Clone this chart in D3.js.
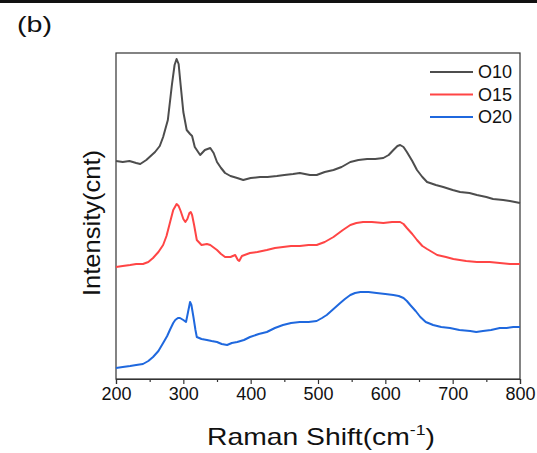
<!DOCTYPE html>
<html><head><meta charset="utf-8">
<script src="https://cdn.jsdelivr.net/npm/d3@7"></script>
<style>html,body{margin:0;padding:0;background:#fff;}svg{display:block;}</style>
</head><body>
<script>
// Raman shift positions (cm-1) and intensities (arbitrary units, offset-stacked as in figure)
const o10X = [200,210,220,230,236,245,258,265,270,277,283,287,290,293,296,300,305,310,313,317,325,332,340,345,350,356,362,370,380,389,400,414,425,439,450,463,473,488,498,510,523,535,548,560,573,585,597,605,612,618,622,627,632,640,647,655,662,675,686,700,711,725,736,750,760,775,785,800];
const o10Y = [218,217,218,216,215,219,227,233,242,259,294,314,320,315,294,267,249,245,243,232,224,229,231,226,217,211,206,203,201,199,201,202,202,203,204,205,206,204,204,207,209,212,217,219,220,220,221,224,229,233,234,232,227,218,209,202,197,194,192,189,187,186,184,182,180,179,178,176];
const o15X = [200,210,221,230,240,248,255,263,270,275,280,285,290,293,296,300,303,306,309,311,313,316,320,327,335,340,350,356,362,370,377,381,383,387,399,410,424,436,448,460,473,486,498,510,523,537,548,557,567,580,597,610,622,627,632,640,647,655,662,677,690,701,720,736,755,770,785,800];
const o15Y = [112,113,114,115,115,117,121,127,134,143,156,169,175,173,168,160,157,160,166,167,164,154,139,134,135,134,129,125,122,122,124,119,118,123,126,127,129,131,132,133,133,134,134,137,142,149,154,156,157,157,156,157,157,155,151,145,139,133,130,124,122,120,118,117,117,116,115,115];
const o20X = [200,210,221,230,240,248,255,263,270,276,280,285,288,292,295,300,304,307,310,312,315,318,320,327,335,342,350,357,365,372,380,390,399,412,424,436,448,460,473,486,498,506,513,523,533,540,548,555,563,575,587,600,612,620,627,632,637,645,652,660,671,683,696,710,726,735,745,757,770,780,790,800];
const o20Y = [11,12,13,14,15,18,22,28,36,43,49,56,59,61,61,59,57,67,77,74,62,49,42,40,39,38,37,35,34,36,37,39,42,45,47,51,54,56,57,57,58,61,64,70,76,80,84,86,87,87,86,85,84,83,81,78,74,68,62,57,54,52,51,49,48,47,48,49,51,51,52,52];
const seriesNames = ["O10","O15","O20"];
const seriesColors = ["#4d4d4d","#ff4545","#1f68de"];
const xTicks = [200,300,400,500,600,700,800];
const xMinorTicks = [250,350,450,550,650,750];

const W = 537, H = 453;
const m = {left:116, right:520, top:53, bottom:379};
const svg = d3.select("body").append("svg").attr("width",W).attr("height",H)
  .style("font-family","'Liberation Sans', Arial, sans-serif");

// top black rule
svg.append("rect").attr("x",0).attr("y",0).attr("width",W).attr("height",3).attr("fill","#111");

const x = d3.scaleLinear().domain([200,800]).range([m.left,m.right]);
const y = d3.scaleLinear().domain([0,326]).range([m.bottom,m.top]);

// frame
svg.append("rect").attr("x",m.left).attr("y",m.top).attr("width",m.right-m.left).attr("height",m.bottom-m.top)
  .attr("fill","none").attr("stroke","#333").attr("stroke-width",1.2);

const data = [[o10X,o10Y],[o15X,o15Y],[o20X,o20Y]];
const line = d3.line().x(d=>x(d[0])).y(d=>y(d[1])).curve(d3.curveLinear);
const plot = svg.append("g");
data.forEach((s,i)=>{
  const pts = s[0].map((v,k)=>[v,s[1][k]]);
  plot.append("path").datum(pts).attr("d",line).attr("fill","none")
    .attr("stroke",seriesColors[i]).attr("stroke-width",2).attr("stroke-linejoin","round");
});

// x axis
const xAxis = svg.append("g").attr("transform",`translate(0,${m.bottom})`)
  .call(d3.axisBottom(x).tickValues(xTicks).tickSize(5).tickPadding(3).tickFormat(d3.format("d")));
xAxis.select(".domain").attr("stroke","#333").attr("stroke-width",1.2);
xAxis.selectAll(".tick line").attr("stroke","#333").attr("stroke-width",1.2);
xAxis.selectAll(".tick text").attr("font-size",18).attr("fill","#111").attr("font-family","'Liberation Sans', Arial, sans-serif");
const xMinor = svg.append("g").attr("transform",`translate(0,${m.bottom})`)
  .call(d3.axisBottom(x).tickValues(xMinorTicks).tickSize(3).tickFormat(""));
xMinor.select(".domain").remove();
xMinor.selectAll(".tick line").attr("stroke","#333").attr("stroke-width",1.2);

// axis titles
const xt = svg.append("text").attr("x",207).attr("y",445).attr("font-size",24).attr("fill","#111")
  .attr("textLength",228).attr("lengthAdjust","spacingAndGlyphs");
xt.append("tspan").text("Raman Shift(cm");
xt.append("tspan").attr("font-size",15).attr("dy",-10).text("-1");
xt.append("tspan").attr("dy",10).text(")");

svg.append("text").attr("transform","translate(100,296) rotate(-90)").attr("font-size",24).attr("fill","#111")
  .attr("textLength",146).attr("lengthAdjust","spacingAndGlyphs").text("Intensity(cnt)");

// panel label
svg.append("text").attr("x",17).attr("y",32).attr("font-size",22).attr("fill","#111")
  .attr("textLength",35).attr("lengthAdjust","spacingAndGlyphs").text("(b)");

// legend
const legY = [72,94.5,117];
seriesNames.forEach((n,i)=>{
  svg.append("line").attr("x1",430).attr("x2",473).attr("y1",legY[i]).attr("y2",legY[i])
    .attr("stroke",seriesColors[i]).attr("stroke-width",2);
  svg.append("text").attr("x",478).attr("y",legY[i]).attr("dy","0.35em").attr("font-size",18)
    .attr("fill","#111").text(n);
});
</script>
</body></html>
